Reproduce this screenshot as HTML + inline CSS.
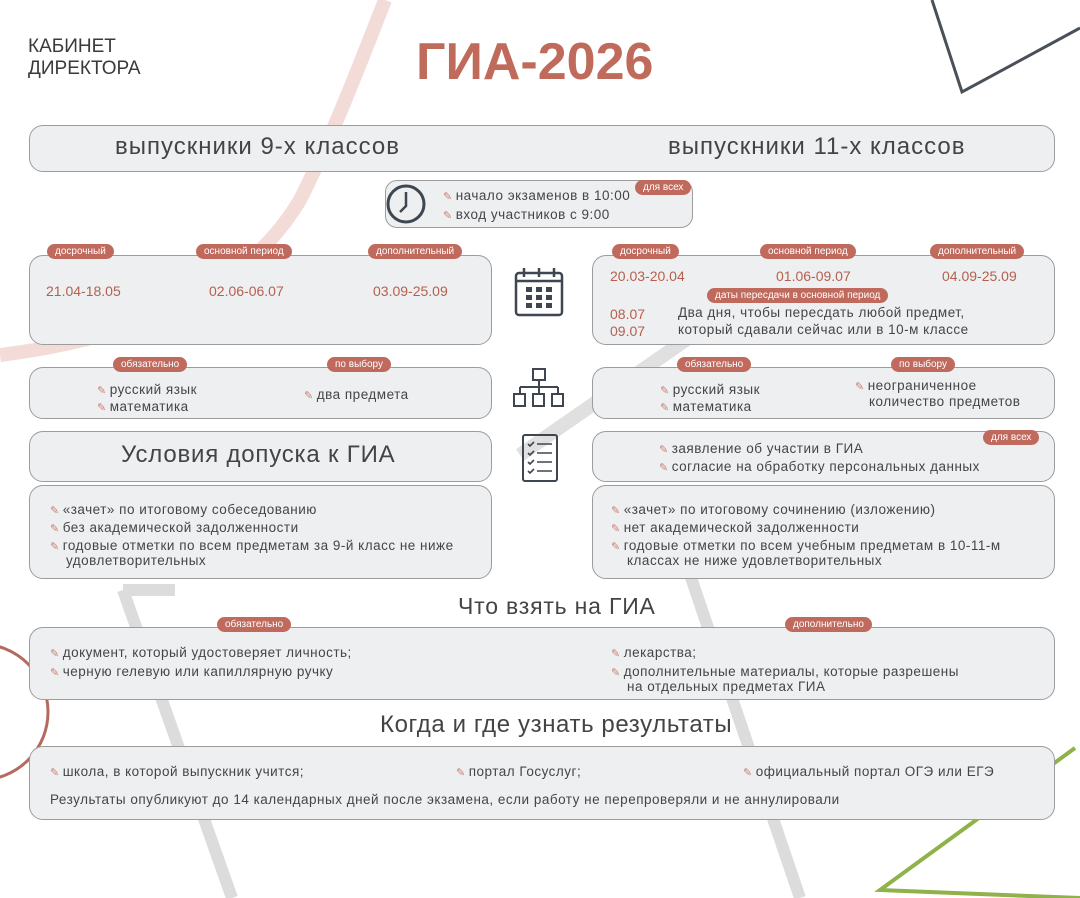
<!DOCTYPE html>
<html><head><meta charset="utf-8"><style>
*{margin:0;padding:0;box-sizing:border-box}
body{width:1080px;height:898px;background:#fff;position:relative;overflow:hidden;font-family:"Liberation Sans","DejaVu Sans",sans-serif;color:#454545}
.a{position:absolute}
.box{position:absolute;background:#eeeff1;border:1.3px solid #9c9c9c;border-radius:14px}
.pill{position:absolute;background:#c06a5e;color:#fff;font-size:10px;line-height:15px;height:15px;padding:0 8px;border-radius:8px;white-space:nowrap}
.t{position:absolute;font-size:13.5px;letter-spacing:0.5px;line-height:17px;white-space:nowrap}
.p::before{content:"✎";color:#c77f74;font-size:11px;margin-right:3px}
.d{position:absolute;color:#b5604f;font-size:14px}
.h{position:absolute;font-size:24px;letter-spacing:1px;color:#444;white-space:nowrap}
</style></head><body>
<svg class="a" style="left:0;top:0" width="1080" height="898">
<path d="M385 0 C 350 90 330 140 300 200 C 240 300 120 340 0 355" stroke="#f3dcd8" stroke-width="14" fill="none"/>
<path d="M520 455 L 700 330" stroke="#e0e0e0" stroke-width="14"/>
<path d="M123 590 L 232 898 M 123 590 L175 590" stroke="#dcdcdc" stroke-width="12" fill="none"/>
<path d="M685 560 L 800 898" stroke="#dcdcdc" stroke-width="12"/>
<path d="M932 0 L 962 92 L 1080 28" stroke="#4a5058" stroke-width="3" fill="none"/>
<path d="M1075 748 L 880 890 L 1080 898" stroke="#8fb24a" stroke-width="4" fill="none"/>
<circle cx="-20" cy="712" r="68" stroke="#b46a5e" stroke-width="3" fill="none"/>
</svg>
<div class="a" style="left:28px;top:36px;font-size:19px;line-height:22px;color:#3a3a3a">КАБИНЕТ<br>ДИРЕКТОРА</div>
<div class="a" style="left:416px;top:32px;font-size:52px;font-weight:bold;color:#bf6a5b">ГИА-2026</div>

<div class="box" style="left:29px;top:125px;width:1026px;height:47px"></div>
<div class="h" style="left:115px;top:133px">выпускники 9-х классов</div>
<div class="h" style="left:668px;top:133px">выпускники 11-х классов</div>

<div class="box" style="left:385px;top:180px;width:308px;height:48px;border-radius:12px"></div>
<svg class="a" style="left:385px;top:182px" width="44" height="44"><circle cx="21" cy="22" r="18" stroke="#3e4750" stroke-width="3" fill="none"/><path d="M21 10 V24 L15 30" stroke="#3e4750" stroke-width="2.5" fill="none"/></svg>
<div class="t p" style="left:443px;top:187px">начало экзаменов в 10:00</div>
<div class="t p" style="left:443px;top:206px">вход участников с 9:00</div>
<div class="pill" style="left:635px;top:180px">для всех</div>

<div class="box" style="left:29px;top:255px;width:463px;height:90px"></div>
<div class="pill" style="left:47px;top:244px">досрочный</div>
<div class="pill" style="left:196px;top:244px">основной период</div>
<div class="pill" style="left:368px;top:244px">дополнительный</div>
<div class="d" style="left:46px;top:283px">21.04-18.05</div>
<div class="d" style="left:209px;top:283px">02.06-06.07</div>
<div class="d" style="left:373px;top:283px">03.09-25.09</div>

<svg class="a" style="left:512px;top:265px" width="56" height="56"><rect x="4" y="8" width="46" height="42" rx="3" stroke="#3e4750" stroke-width="2.5" fill="none"/><path d="M4 16 H50 M12 3 V12 M27 3 V12 M42 3 V12" stroke="#3e4750" stroke-width="2.5"/><g fill="#3e4750"><rect x="14" y="22" width="6" height="5"/><rect x="24" y="22" width="6" height="5"/><rect x="34" y="22" width="6" height="5"/><rect x="14" y="30" width="6" height="5"/><rect x="24" y="30" width="6" height="5"/><rect x="34" y="30" width="6" height="5"/><rect x="14" y="38" width="6" height="5"/><rect x="24" y="38" width="6" height="5"/><rect x="34" y="38" width="6" height="5"/></g></svg>

<div class="box" style="left:592px;top:255px;width:463px;height:90px"></div>
<div class="pill" style="left:612px;top:244px">досрочный</div>
<div class="pill" style="left:760px;top:244px">основной период</div>
<div class="pill" style="left:930px;top:244px">дополнительный</div>
<div class="d" style="left:610px;top:268px">20.03-20.04</div>
<div class="d" style="left:776px;top:268px">01.06-09.07</div>
<div class="d" style="left:942px;top:268px">04.09-25.09</div>
<div class="pill" style="left:707px;top:288px">даты пересдачи в основной период</div>
<div class="d" style="left:610px;top:306px;line-height:17px">08.07<br>09.07</div>
<div class="t" style="left:678px;top:304px">Два дня, чтобы пересдать любой предмет,<br>который сдавали сейчас или в 10-м классе</div>

<div class="box" style="left:29px;top:367px;width:463px;height:52px"></div>
<div class="pill" style="left:113px;top:357px">обязательно</div>
<div class="pill" style="left:327px;top:357px">по выбору</div>
<div class="t p" style="left:97px;top:381px">русский язык</div>
<div class="t p" style="left:97px;top:398px">математика</div>
<div class="t p" style="left:304px;top:386px">два предмета</div>

<svg class="a" style="left:510px;top:367px" width="60" height="42"><rect x="23" y="2" width="12" height="11" stroke="#3e4750" stroke-width="2" fill="none"/><path d="M29 13 V20 M10 20 H48 M10 20 V27 M29 20 V27 M48 20 V27" stroke="#3e4750" stroke-width="2" fill="none"/><rect x="4" y="27" width="11" height="12" stroke="#3e4750" stroke-width="2" fill="none"/><rect x="23" y="27" width="11" height="12" stroke="#3e4750" stroke-width="2" fill="none"/><rect x="42" y="27" width="11" height="12" stroke="#3e4750" stroke-width="2" fill="none"/></svg>

<div class="box" style="left:592px;top:367px;width:463px;height:52px"></div>
<div class="pill" style="left:677px;top:357px">обязательно</div>
<div class="pill" style="left:891px;top:357px">по выбору</div>
<div class="t p" style="left:660px;top:381px">русский язык</div>
<div class="t p" style="left:660px;top:398px">математика</div>
<div class="t p" style="left:855px;top:377px">неограниченное</div>
<div class="t" style="left:869px;top:393px">количество предметов</div>

<div class="box" style="left:29px;top:431px;width:463px;height:51px"></div>
<div class="h" style="left:121px;top:441px;font-size:24px;letter-spacing:0.8px">Условия допуска к ГИА</div>
<svg class="a" style="left:520px;top:431px" width="40" height="54"><rect x="3" y="4" width="34" height="46" rx="2" stroke="#3e4750" stroke-width="2" fill="none"/><path d="M8 13 l2 2 4-4 M17 13 H32 M8 22 l2 2 4-4 M17 22 H32 M8 31 l2 2 4-4 M17 31 H32 M8 40 l2 2 4-4 M17 40 H32" stroke="#3e4750" stroke-width="1.6" fill="none"/></svg>

<div class="box" style="left:592px;top:431px;width:463px;height:51px"></div>
<div class="pill" style="left:983px;top:430px">для всех</div>
<div class="t p" style="left:659px;top:440px">заявление об участии в ГИА</div>
<div class="t p" style="left:659px;top:458px">согласие на обработку персональных данных</div>

<div class="box" style="left:29px;top:485px;width:463px;height:94px"></div>
<div class="t p" style="left:50px;top:501px">«зачет» по итоговому собеседованию</div>
<div class="t p" style="left:50px;top:519px">без академической задолженности</div>
<div class="t p" style="left:50px;top:537px">годовые отметки по всем предметам за 9-й класс не ниже</div>
<div class="t" style="left:66px;top:552px">удовлетворительных</div>

<div class="box" style="left:592px;top:485px;width:463px;height:94px"></div>
<div class="t p" style="left:611px;top:501px">«зачет» по итоговому сочинению (изложению)</div>
<div class="t p" style="left:611px;top:519px">нет академической задолженности</div>
<div class="t p" style="left:611px;top:537px">годовые отметки по всем учебным предметам в 10-11-м</div>
<div class="t" style="left:627px;top:552px">классах не ниже удовлетворительных</div>

<div class="h" style="left:458px;top:593px;font-size:23px;letter-spacing:0.8px">Что взять на ГИА</div>
<div class="box" style="left:29px;top:627px;width:1026px;height:73px"></div>
<div class="pill" style="left:217px;top:617px">обязательно</div>
<div class="pill" style="left:785px;top:617px">дополнительно</div>
<div class="t p" style="left:50px;top:644px">документ, который удостоверяет личность;</div>
<div class="t p" style="left:50px;top:663px">черную гелевую или капиллярную ручку</div>
<div class="t p" style="left:611px;top:644px">лекарства;</div>
<div class="t p" style="left:611px;top:663px">дополнительные материалы, которые разрешены</div>
<div class="t" style="left:627px;top:678px">на отдельных предметах ГИА</div>

<div class="h" style="left:380px;top:711px;font-size:24px;letter-spacing:0.6px">Когда и где узнать результаты</div>
<div class="box" style="left:29px;top:746px;width:1026px;height:74px"></div>
<div class="t p" style="left:50px;top:763px">школа, в которой выпускник учится;</div>
<div class="t p" style="left:456px;top:763px">портал Госуслуг;</div>
<div class="t p" style="left:743px;top:763px">официальный портал ОГЭ или ЕГЭ</div>
<div class="t" style="left:50px;top:791px">Результаты опубликуют до 14 календарных дней после экзамена, если работу не перепроверяли и не аннулировали</div>
</body></html>
